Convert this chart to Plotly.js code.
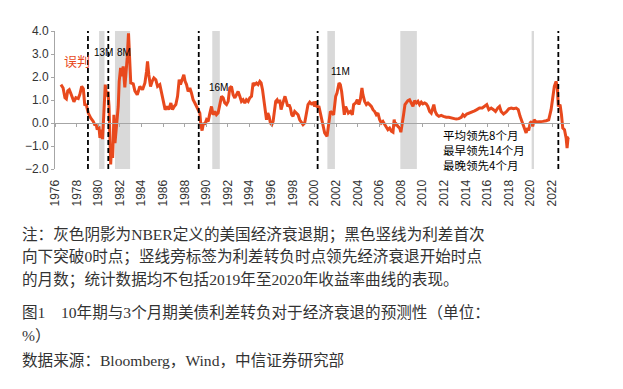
<!DOCTYPE html>
<html>
<head>
<meta charset="utf-8">
<script src="https://cdn.plot.ly/plotly-3.0.1.min.js"></script>
<style>html,body{margin:0;padding:0;background:#fff;}#chart{width:623px;height:389px;}</style>
</head>
<body>
<div id="chart"></div>
<script>
// ---- data (decimal years, spread %) ----
const years = [
1976.55,1976.75,1976.92,1977.05,1977.18,1977.32,1977.45,1977.6,1977.75,1977.93,1978.15,1978.3,1978.47,1978.62,1978.75,1978.9,
1979.08,1979.3,1979.54,1979.7,1979.79,1979.91,1980.06,1980.16,1980.31,1980.4,1980.53,1980.65,1980.78,1980.9,1981.0,1981.08,
1981.15,1981.24,1981.33,1981.39,1981.45,1981.55,1981.7,1981.85,1981.94,1982.07,1982.16,1982.31,1982.46,1982.56,1982.68,1982.8,
1982.9,1983.01,1983.24,1983.39,1983.61,1983.85,1984.1,1984.32,1984.47,1984.56,1984.68,1984.84,1984.99,1985.15,1985.33,1985.49,
1985.7,1985.86,1986.0,1986.19,1986.38,1986.53,1986.72,1986.87,1987.03,1987.18,1987.34,1987.49,1987.61,1987.77,1987.92,1988.04,
1988.17,1988.32,1988.48,1988.63,1988.78,1988.94,1989.1,1989.24,1989.4,1989.49,1989.61,1989.74,1989.86,1990.02,1990.17,1990.33,
1990.48,1990.63,1990.79,1990.94,1991.09,1991.25,1991.41,1991.56,1991.71,1991.87,1992.02,1992.17,1992.33,1992.48,1992.64,1992.79,
1992.94,1993.1,1993.25,1993.4,1993.56,1993.71,1993.87,1994.02,1994.18,1994.33,1994.48,1994.64,1994.79,1994.95,1995.07,1995.2,
1995.32,1995.44,1995.57,1995.69,1995.81,1995.93,1996.06,1996.18,1996.3,1996.42,1996.55,1996.67,1996.79,1996.92,1997.04,1997.16,
1997.28,1997.41,1997.53,1997.65,1997.78,1997.9,1998.02,1998.18,1998.33,1998.49,1998.64,1998.8,1998.95,1999.1,1999.26,1999.41,
1999.57,1999.72,1999.87,2000.03,2000.12,2000.24,2000.43,2000.55,2000.74,2000.95,2001.17,2001.35,2001.48,2001.66,2001.78,2001.97,
2002.09,2002.28,2002.4,2002.52,2002.64,2002.77,2002.89,2003.01,2003.14,2003.32,2003.51,2003.63,2003.82,2003.97,2004.12,2004.25,
2004.4,2004.49,2004.65,2004.81,2004.96,2005.11,2005.27,2005.42,2005.58,2005.73,2005.88,2006.04,2006.19,2006.34,2006.5,2006.66,
2006.8,2006.96,2007.12,2007.27,2007.38,2007.47,2007.58,2007.73,2007.89,2008.0,2008.13,2008.25,2008.38,2008.5,2008.65,2008.81,
2008.97,2009.12,2009.27,2009.43,2009.58,2009.73,2009.89,2010.04,2010.2,2010.35,2010.5,2010.66,2010.81,2010.96,2011.05,2011.18,
2011.33,2011.52,2011.73,2011.94,2012.2,2012.44,2012.65,2012.87,2013.12,2013.36,2013.59,2013.74,2013.89,2014.1,2014.35,2014.6,
2014.82,2015.03,2015.28,2015.53,2015.74,2015.95,2016.14,2016.36,2016.57,2016.76,2016.97,2017.13,2017.28,2017.5,2017.75,2017.99,
2018.21,2018.43,2018.67,2018.86,2019.03,2019.22,2019.41,2019.59,2019.74,2019.83,2019.96,2020.08,2020.2,2020.33,2020.51,2020.82,
2021.13,2021.44,2021.68,2021.9,2022.05,2022.2,2022.36,2022.48,2022.57,2022.73,2022.86,2022.98,2023.14,2023.29,2023.38,2023.47,2023.56
];
const spread = [
1.67,1.52,1.10,1.05,1.40,1.45,1.30,1.05,0.92,1.10,1.06,1.25,1.59,1.49,0.80,0.78,
0.43,0.22,0.07,-0.10,-0.04,-0.29,-0.15,-0.65,-0.29,-0.70,0.65,1.67,1.16,1.37,0.72,-0.51,
-1.80,-0.94,-1.52,-0.73,0.36,-0.87,-0.07,0.72,1.81,2.39,2.03,2.46,1.55,2.03,2.83,3.90,
2.53,1.74,1.70,1.40,1.23,1.59,1.45,1.74,2.24,2.68,2.10,1.59,1.81,1.96,1.88,1.59,
1.67,1.30,0.94,0.58,0.72,0.58,0.87,0.58,0.72,0.80,1.16,1.88,1.67,1.88,2.10,1.81,
1.67,1.37,1.52,1.30,1.01,0.87,0.72,0.58,0.43,-0.07,-0.33,0.00,-0.07,0.14,0.07,0.43,
0.72,0.36,0.50,0.36,0.43,0.80,1.16,1.09,0.87,0.80,0.94,1.52,1.59,1.23,1.09,1.23,
1.37,1.16,0.94,1.01,0.87,1.01,0.94,1.09,1.16,1.74,1.67,1.74,1.67,1.81,1.74,1.45,
0.94,0.43,0.14,0.43,0.29,0.00,-0.07,0.07,0.58,0.94,1.01,0.87,1.01,0.58,0.80,0.94,
1.16,0.94,0.72,0.80,0.65,0.36,0.29,0.50,0.43,0.36,0.14,0.00,-0.07,0.00,0.36,0.80,
0.91,0.83,0.87,0.72,0.94,0.72,0.70,0.40,0.00,-0.43,-0.58,-0.07,0.50,0.43,0.36,1.16,
1.30,1.74,1.67,1.37,0.72,0.36,0.72,0.58,0.43,0.50,0.36,0.80,0.87,1.01,0.80,1.01,
1.52,1.23,0.94,0.80,0.87,0.80,0.72,0.58,0.50,0.36,0.43,0.14,0.00,0.07,-0.07,-0.22,
-0.29,-0.22,-0.36,-0.40,0.15,-0.10,-0.05,-0.15,-0.22,-0.40,-0.07,0.36,0.80,0.87,0.97,1.01,
0.87,0.72,0.97,0.87,0.94,0.80,0.91,0.83,0.87,0.83,0.72,0.50,0.43,0.72,0.80,0.50,
0.36,0.29,0.33,0.29,0.25,0.25,0.22,0.19,0.17,0.19,0.25,0.36,0.29,0.39,0.43,0.48,
0.53,0.58,0.65,0.65,0.72,0.80,0.58,0.65,0.58,0.50,0.65,0.72,0.50,0.39,0.48,0.62,
0.65,0.62,0.65,0.58,0.29,0.07,-0.22,-0.43,-0.22,-0.33,0.00,0.07,-0.15,0.14,0.04,0.04,
0.07,0.10,0.14,0.58,1.16,1.59,1.81,1.52,0.72,0.80,0.36,-0.22,-0.29,-0.65,-1.09,-0.65,-0.62
];
// NBER recessions (start, end)
const recStart = [1980.08, 1981.55, 1990.55, 2001.2, 2007.95, 2020.1];
const recEnd   = [1980.58, 1982.95, 1991.25, 2001.9, 2009.48, 2020.32];
// first downward cross below 0 (dashed lines)
const crossYears = [1979.05, 1980.93, 1989.3, 2000.3, 2022.57];
// lead labels
const leadLabels = ['13M', '8M', '16M', '11M'];
const leadX = [1979.38, 1981.55, 1990.05, 2001.32];
const leadY = [3.06, 3.06, 1.53, 2.23];
// tick labels
const tickYears = [];
for (let y = 1976; y <= 2022; y += 2) tickYears.push(y);
const tickLabels = tickYears.map(String);
const yTicks = [-2, -1, 0, 1, 2, 3, 4];
const statLines = ['平均领先8个月', '最早领先14个月', '最晚领先4个月'];
const statY = [-0.51, -1.19, -1.84];
const notes = [
  '注：灰色阴影为NBER定义的美国经济衰退期；黑色竖线为利差首次',
  '向下突破0时点；竖线旁标签为利差转负时点领先经济衰退开始时点',
  '的月数；统计数据均不包括2019年至2020年收益率曲线的表现。',
  '图1\u300010年期与3个月期美债利差转负对于经济衰退的预测性（单位：',
  '%）',
  '数据来源：Bloomberg，Wind，中信证券研究部'
];
const notesY = [-0.478, -0.640, -0.804, -1.041, -1.203, -1.391];

// ---- chart ----
const LINE = '#E8491D';
const xr = [1976, 2023.65];
const traces = [
  {x: years, y: spread, type: 'scatter', mode: 'lines', line: {color: LINE, width: 3}, hoverinfo: 'skip', showlegend: false},
  {x: [years[0]], y: [spread[0]], xaxis: 'x2', type: 'scatter', mode: 'lines', line: {width: 0}, hoverinfo: 'skip', showlegend: false}
];
const shapes = [];
recStart.forEach((s, i) => shapes.push({type: 'rect', xref: 'x', yref: 'paper', x0: s, x1: recEnd[i], y0: 0, y1: 1, fillcolor: '#d9d9d9', line: {width: 0}, layer: 'below'}));
crossYears.forEach(c => shapes.push({type: 'line', xref: 'x', yref: 'paper', x0: c, x1: c, y0: 0, y1: 1, line: {color: '#000', width: 1.8, dash: '5px,3px'}}));

const annotations = [];
annotations.push({text: '误判', x: 1976.65, y: 2.71, xref: 'x', yref: 'y', xanchor: 'left', yanchor: 'middle', showarrow: false, font: {family: 'Noto Sans CJK SC', size: 13, color: LINE}});
leadLabels.forEach((t, i) => annotations.push({text: t, x: leadX[i], y: leadY[i], xref: 'x', yref: 'y', xanchor: 'left', yanchor: 'middle', showarrow: false, font: {family: 'Arial, Liberation Sans', size: 10, color: '#000'}}));
statLines.forEach((t, i) => annotations.push({text: t, x: 2011.74, y: statY[i], xref: 'x', yref: 'y', xanchor: 'left', yanchor: 'middle', showarrow: false, font: {family: 'Noto Sans CJK SC', size: 11.5, color: '#000'}}));
notes.forEach((t, i) => annotations.push({text: t, x: -0.068, y: notesY[i], xref: 'paper', yref: 'paper', xanchor: 'left', yanchor: 'middle', showarrow: false, font: {family: 'Liberation Serif, Noto Sans CJK SC', size: 15.6, color: '#333'}}));

const layout = {
  width: 623, height: 389,
  margin: {l: 55, r: 53, t: 31, b: 220, pad: 0},
  paper_bgcolor: '#fff', plot_bgcolor: '#fff',
  showlegend: false,
  xaxis: {range: xr, tickvals: tickYears, ticktext: tickLabels, tickangle: -90, showgrid: false, zeroline: false, showline: false,
          ticks: 'outside', ticklen: 5, tickcolor: 'rgba(0,0,0,0)', tickfont: {family: 'Arial, Liberation Sans', size: 12, color: '#333'}},
  xaxis2: {overlaying: 'x', anchor: 'free', position: 1/3, range: xr, tickvals: tickYears, showticklabels: false, showgrid: false, zeroline: false,
           showline: true, linecolor: '#a6a6a6', linewidth: 1, ticks: 'outside', ticklen: 3, tickcolor: '#a6a6a6'},
  yaxis: {range: [-2, 4], tickvals: yTicks, tickformat: '.1f', showgrid: false, zeroline: false, showline: true, linecolor: '#a6a6a6',
          ticks: 'outside', ticklen: 3, tickcolor: '#a6a6a6', tickfont: {family: 'Arial, Liberation Sans', size: 12, color: '#333'}},
  shapes: shapes,
  annotations: annotations
};
Plotly.newPlot('chart', traces, layout, {staticPlot: true, displayModeBar: false});
</script>
</body>
</html>
